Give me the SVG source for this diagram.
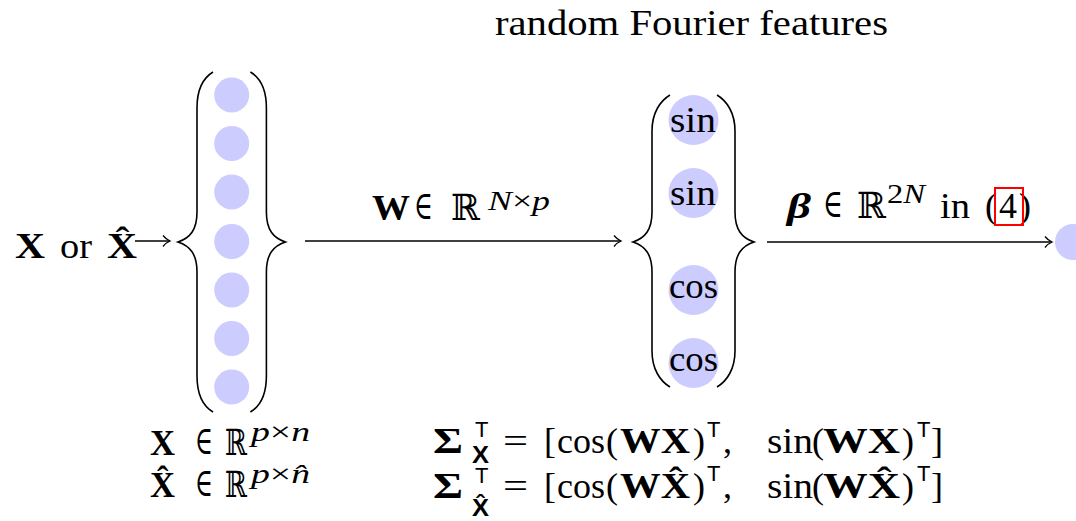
<svg xmlns="http://www.w3.org/2000/svg" width="1076" height="521" viewBox="0 0 1076 521">
<defs>
<style>
.t{font-family:"Liberation Serif","DejaVu Serif",serif;font-size:36px;fill:#000}
.el{font-family:"DejaVu Serif",serif;font-size:40px;fill:#000}
.b{font-weight:bold}
.i{font-style:italic}
.sup{font-size:27px}
.sf{font-family:"Liberation Sans","DejaVu Sans",sans-serif;font-size:24px;font-weight:bold;fill:#000}
.tr{font-family:"Liberation Sans","DejaVu Sans",sans-serif;font-size:22px;font-weight:normal;fill:#000}
.node{fill:#ccccff}
.br{fill:none;stroke:#000;stroke-width:1.6}
.edge{fill:none;stroke:#000;stroke-width:1.4}
</style>
<marker id="arr" markerUnits="userSpaceOnUse" markerWidth="14" markerHeight="14" refX="0" refY="0" viewBox="-10 -7 12 14" orient="auto" overflow="visible">
<path d="M -7 -5.5 C -5 -3, -2 -0.8, 0 0 C -2 0.8, -5 3, -7 5.5" fill="none" stroke="#000" stroke-width="1.3"/>
</marker>
</defs>
<rect width="1076" height="521" fill="#fff"/>

<text class="t" x="495" y="35" textLength="393" lengthAdjust="spacingAndGlyphs">random Fourier features</text>

<g id="input">
<text class="t b" x="15" y="258" textLength="30" lengthAdjust="spacingAndGlyphs">X</text>
<text class="t" x="60" y="258" textLength="32" lengthAdjust="spacingAndGlyphs">or</text>
<text class="t b" x="107" y="258" textLength="30" lengthAdjust="spacingAndGlyphs">X̂</text>
</g>

<g id="input-layer">
<path class="br" d="M 213 72 C 203 78, 197 90, 197 108 L 197 212 C 197 230, 190 238, 178 242 C 190 246, 197 254, 197 272 L 197 376 C 197 394, 203 406, 213 412"/>
<path class="br" d="M 250.4 72 C 260.4 78, 266.4 90, 266.4 108 L 266.4 212 C 266.4 230, 273.4 238, 285.4 242 C 273.4 246, 266.4 254, 266.4 272 L 266.4 376 C 266.4 394, 260.4 406, 250.4 412"/>
<circle class="node" cx="231.7" cy="95" r="17.5"/>
<circle class="node" cx="231.7" cy="143.5" r="17.5"/>
<circle class="node" cx="231.7" cy="192" r="17.5"/>
<circle class="node" cx="231.7" cy="241.5" r="17.5"/>
<circle class="node" cx="231.7" cy="290" r="17.5"/>
<circle class="node" cx="231.7" cy="338.5" r="17.5"/>
<circle class="node" cx="231.7" cy="387" r="17.5"/>
</g>

<g id="feature-layer">
<path class="br" d="M 670 95 C 660 101, 652 113, 652 131 L 652 212 C 652 230, 645 238, 633 242 C 645 246, 652 254, 652 272 L 652 351 C 652 369, 660 381, 670 387"/>
<path class="br" d="M 717 95 C 727 101, 735 113, 735 131 L 735 212 C 735 230, 742 238, 754 242 C 742 246, 735 254, 735 272 L 735 351 C 735 369, 727 381, 717 387"/>
<circle class="node" cx="693.5" cy="120" r="25"/>
<circle class="node" cx="693.5" cy="193" r="25"/>
<circle class="node" cx="693.5" cy="290" r="25"/>
<circle class="node" cx="693.5" cy="363" r="25"/>
<text class="t" x="670" y="132" textLength="46" lengthAdjust="spacingAndGlyphs">sin</text>
<text class="t" x="670" y="205" textLength="46" lengthAdjust="spacingAndGlyphs">sin</text>
<text class="t" x="669" y="298" textLength="49" lengthAdjust="spacingAndGlyphs">cos</text>
<text class="t" x="669" y="371" textLength="49" lengthAdjust="spacingAndGlyphs">cos</text>
</g>

<g id="output">
<circle class="node" cx="1073" cy="242" r="18"/>
</g>

<g id="connectors">
<path class="edge" d="M 135 241 L 170 241" marker-end="url(#arr)"/>
<path class="edge" d="M 305 241 L 621 241" marker-end="url(#arr)"/>
<path class="edge" d="M 767 242 L 1052 242" marker-end="url(#arr)"/>
<text class="t b" x="372" y="220" textLength="38" lengthAdjust="spacingAndGlyphs">W</text>
<text class="el" x="414" y="219" textLength="19" lengthAdjust="spacingAndGlyphs">∈</text>
<text class="t" x="451" y="220" textLength="29" lengthAdjust="spacingAndGlyphs">ℝ</text>
<text class="t sup" x="488" y="210" textLength="62" lengthAdjust="spacingAndGlyphs"><tspan class="i">N</tspan>×<tspan class="i">p</tspan></text>
<text class="t b i" x="787" y="218" textLength="24" lengthAdjust="spacingAndGlyphs">β</text>
<text class="el" x="823" y="217" textLength="20" lengthAdjust="spacingAndGlyphs">∈</text>
<text class="t" x="857" y="218" textLength="29" lengthAdjust="spacingAndGlyphs">ℝ</text>
<text class="t sup" x="887" y="203" textLength="38" lengthAdjust="spacingAndGlyphs">2<tspan class="i">N</tspan></text>
<text class="t" x="940" y="218" textLength="30" lengthAdjust="spacingAndGlyphs">in</text>
<text class="t" x="985" y="218">(</text>
<text class="t" x="999" y="218">4</text>
<text class="t" x="1019" y="218">)</text>
<rect x="995" y="188" width="28" height="37" fill="none" stroke="#ff0000" stroke-width="2"/>
</g>

<g id="bottom-left">
<text class="t b" x="150" y="455" textLength="25" lengthAdjust="spacingAndGlyphs">X</text>
<text class="el" x="195" y="454" textLength="18" lengthAdjust="spacingAndGlyphs">∈</text>
<text class="t" x="225" y="455" textLength="22" lengthAdjust="spacingAndGlyphs">ℝ</text>
<text class="t sup" x="251" y="441" textLength="59" lengthAdjust="spacingAndGlyphs"><tspan class="i">p</tspan>×<tspan class="i">n</tspan></text>
<text class="t b" x="150" y="497" textLength="25" lengthAdjust="spacingAndGlyphs">X̂</text>
<text class="el" x="195" y="496" textLength="18" lengthAdjust="spacingAndGlyphs">∈</text>
<text class="t" x="225" y="497" textLength="22" lengthAdjust="spacingAndGlyphs">ℝ</text>
<text class="t sup" x="251" y="483" textLength="59" lengthAdjust="spacingAndGlyphs"><tspan class="i">p</tspan>×<tspan class="i">n̂</tspan></text>
</g>

<g id="bottom-right">
<text class="t b" x="433" y="453" textLength="30" lengthAdjust="spacingAndGlyphs">Σ</text>
<text class="tr" x="475" y="437">T</text>
<text class="sf" x="472" y="463" textLength="17" lengthAdjust="spacingAndGlyphs">X</text>
<text class="t" x="503" y="453" textLength="25" lengthAdjust="spacingAndGlyphs">=</text>
<text class="t" x="544" y="453">[</text>
<text class="t" x="557" y="453" textLength="48" lengthAdjust="spacingAndGlyphs">cos</text>
<text class="t" x="606" y="453">(</text>
<text class="t b" x="620" y="453" textLength="70" lengthAdjust="spacingAndGlyphs">WX</text>
<text class="t" x="693" y="453">)</text>
<text class="tr" x="707" y="437">T</text>
<text class="t" x="723" y="453">,</text>
<text class="t" x="767" y="453" textLength="46" lengthAdjust="spacingAndGlyphs">sin</text>
<text class="t" x="812" y="453">(</text>
<text class="t b" x="823" y="453" textLength="77" lengthAdjust="spacingAndGlyphs">WX</text>
<text class="t" x="902" y="453">)</text>
<text class="tr" x="917" y="437">T</text>
<text class="t" x="931" y="453">]</text>

<text class="t b" x="433" y="498" textLength="30" lengthAdjust="spacingAndGlyphs">Σ</text>
<text class="tr" x="475" y="483">T</text>
<text class="sf" x="472" y="516" textLength="17" lengthAdjust="spacingAndGlyphs">X̂</text>
<text class="t" x="503" y="498" textLength="25" lengthAdjust="spacingAndGlyphs">=</text>
<text class="t" x="544" y="498">[</text>
<text class="t" x="557" y="498" textLength="48" lengthAdjust="spacingAndGlyphs">cos</text>
<text class="t" x="606" y="498">(</text>
<text class="t b" x="620" y="498" textLength="70" lengthAdjust="spacingAndGlyphs">WX̂</text>
<text class="t" x="693" y="498">)</text>
<text class="tr" x="707" y="481">T</text>
<text class="t" x="723" y="498">,</text>
<text class="t" x="767" y="498" textLength="46" lengthAdjust="spacingAndGlyphs">sin</text>
<text class="t" x="812" y="498">(</text>
<text class="t b" x="823" y="498" textLength="77" lengthAdjust="spacingAndGlyphs">WX̂</text>
<text class="t" x="902" y="498">)</text>
<text class="tr" x="917" y="481">T</text>
<text class="t" x="931" y="498">]</text>
</g>
</svg>
